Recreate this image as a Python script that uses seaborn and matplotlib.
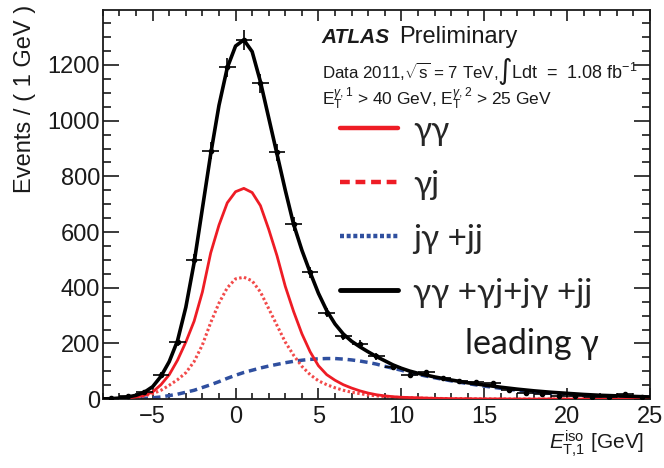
import numpy as np
import pandas as pd
import matplotlib
matplotlib.use("Agg")
import matplotlib.pyplot as plt
from matplotlib.lines import Line2D
from matplotlib.ticker import MultipleLocator
import seaborn as sns

sns.set_theme(style='ticks')
plt.rcParams['font.family'] = ['Liberation Sans', 'DejaVu Sans']
plt.rcParams['mathtext.fontset'] = 'custom'
plt.rcParams['mathtext.rm'] = 'Liberation Sans'
plt.rcParams['mathtext.it'] = 'Liberation Sans:italic'

# data points (1 GeV bins)
bin_centers = np.arange(-7.5, 25, 1.0)
counts = [3, 10, 25, 88, 207, 499, 892, 1192, 1290, 1134, 886, 629, 455, 311,
          227, 197, 155, 115, 87, 96, 75, 66, 60, 57, 33, 24, 18, 12, 10, 9, 9, 18, 8]

# fitted templates
fit_x = [-8, -7.5, -7, -6.5, -6, -5.5, -5, -4.5, -4, -3.5, -3, -2.5, -2, -1.5, -1, -0.5,
         0, 0.5, 1, 1.5, 2, 2.5, 3, 3.5, 4, 4.5, 5, 5.5, 6, 6.5, 7, 7.5, 8, 8.5, 9, 9.5,
         10, 10.5, 11, 12, 13, 14, 15, 16, 17, 18, 19, 20, 21, 22, 23, 24, 25]
total = [1, 2, 4, 8, 14, 25, 45, 82, 135, 210, 330, 490, 685, 880, 1055, 1190,
         1268, 1290, 1248, 1140, 1010, 880, 750, 628, 535, 455, 380, 318, 270, 234, 208, 188, 170, 153, 138, 123,
         111, 101, 93, 80, 69, 59, 51, 43, 36, 30, 25, 21, 17, 14, 12, 10, 8]
gg = [1, 2, 3, 5, 8, 14, 26, 52, 88, 140, 205, 280, 385, 525, 625, 705,
      745, 757, 742, 695, 610, 515, 405, 315, 235, 170, 120, 88, 68, 52, 40, 30, 22, 16, 12, 9,
      7, 6, 5, 3, 2, 1.5, 1, 1, 0.5, 0.5, 0.5, 0.5, 0.5, 0.5, 0.5, 0.5, 0.5]
gj = [0.5, 1, 2, 4, 7, 12, 20, 32, 50, 70, 95, 135, 195, 275, 345, 400,
      432, 438, 425, 385, 325, 265, 205, 158, 118, 88, 66, 52, 41, 32, 25, 20, 15, 12, 9, 7,
      6, 5, 4, 3, 2, 1.5, 1, 0.5, 0.5, 0.5, 0.5, 0.5, 0.5, 0.5, 0.5, 0.5, 0.5]
jj = [0, 0.5, 1, 1.5, 2, 3, 5, 8, 13, 18, 25, 32, 42, 52, 63, 75,
      86, 96, 104, 112, 119, 125, 131, 136, 140, 143, 145, 146, 146, 144, 141, 137, 132, 126, 118, 111,
      104, 96, 89, 77, 66, 56, 47, 39, 32, 26, 21, 17, 14, 11, 9, 8, 7]

labels = ['\u03b3\u03b3', '\u03b3j', 'j\u03b3 +jj', '\u03b3\u03b3 +\u03b3j+j\u03b3 +jj']

red = '#ee1c25'
blue = '#2f4f9f'
ink = '#1a1a1a'

df = pd.DataFrame({'x': fit_x, 'total': total, 'gg': gg, 'gj': gj, 'jj': jj})

fig = plt.figure(figsize=(6.64, 4.68), dpi=100)
ax = fig.add_axes([0.155, 0.147, 0.824, 0.832])

sns.lineplot(data=df, x='x', y='jj', ax=ax, color=blue, lw=2.5, linestyle=(0, (2.2, 1.4)), zorder=2)
sns.lineplot(data=df, x='x', y='gj', ax=ax, color='#f24a4a', lw=2.2, linestyle=(0, (0.8, 0.8)), zorder=2)
sns.lineplot(data=df, x='x', y='gg', ax=ax, color=red, lw=2.0, zorder=3)
sns.lineplot(data=df, x='x', y='total', ax=ax, color='black', lw=2.6, zorder=4)

ax.errorbar(bin_centers, counts, yerr=np.sqrt(counts), xerr=0.5, fmt='o', ms=3,
            color='black', elinewidth=1.2, capsize=0, zorder=5)

ax.set_xlim(-8, 25)
ax.set_ylim(0, 1398)
ax.xaxis.set_major_locator(MultipleLocator(5))
ax.xaxis.set_minor_locator(MultipleLocator(1))
ax.yaxis.set_major_locator(MultipleLocator(200))
ax.yaxis.set_minor_locator(MultipleLocator(50))
ax.tick_params(which='both', direction='in', top=True, right=True, width=1.2, colors=ink,
               labelsize=17, labelcolor=ink)
ax.tick_params(axis='x', which='major', length=8, pad=5)
ax.tick_params(axis='x', which='minor', length=4)
ax.tick_params(axis='y', which='major', length=11.5, pad=2)
ax.tick_params(axis='y', which='minor', length=6)
for s in ax.spines.values():
    s.set_linewidth(1.3)
    s.set_color(ink)

ax.set_xlabel(r'$E_{\mathrm{T{,}1}}^{\mathrm{iso}}$ [GeV]', fontsize=15, loc='right', color=ink)
ax.xaxis.label.set_horizontalalignment('right')
ax.xaxis.set_label_coords(0.99, -0.075)
ax.set_ylabel('Events / ( 1 GeV )', fontsize=17, loc='top', color=ink)
ax.yaxis.set_label_coords(-0.122, 1.012)

ax.text(0.400, 0.915, 'ATLAS', transform=ax.transAxes, fontsize=15, fontweight='bold',
        fontstyle='italic', va='baseline', color=ink)
ax.text(0.542, 0.915, 'Preliminary', transform=ax.transAxes, fontsize=17, va='baseline', color=ink)
ax.text(0.400, 0.823, r'Data 2011,$\sqrt{\mathrm{s}}$ = 7 TeV,',
        transform=ax.transAxes, fontsize=12.2, va='baseline', color=ink)
ax.text(0.721, 0.842, '\u222b', transform=ax.transAxes, fontsize=20, family='DejaVu Sans',
        va='center', ha='left', color=ink)
ax.text(0.745, 0.823, r'Ldt  =  1.08 fb$^{\mathrm{-1}}$',
        transform=ax.transAxes, fontsize=13, va='baseline', color=ink)
ax.text(0.400, 0.757, r'E$_{\mathrm{T}}^{\gamma,1}$ > 40 GeV, E$_{\mathrm{T}}^{\gamma,2}$ > 25 GeV',
        transform=ax.transAxes, fontsize=12.5, va='baseline', color=ink)

handles = [Line2D([], [], color=red, lw=3.2),
           Line2D([], [], color=red, lw=3.2, linestyle=(0, (2.2, 1.3))),
           Line2D([], [], color=blue, lw=3.2, linestyle=(0, (0.9, 0.6))),
           Line2D([], [], color='black', lw=3.5)]
ax.legend(handles, labels, loc='upper left', bbox_to_anchor=(0.433, 0.728), frameon=False,
          prop={'family': ['Lato', 'Noto Sans'], 'size': 24}, handlelength=1.75,
          handletextpad=0.45, labelspacing=0.72, borderpad=0, borderaxespad=0)
ax.text(0.662, 0.116, 'leading \u03b3', transform=ax.transAxes, fontsize=24.5,
        family=['Lato', 'Noto Sans'], va='baseline', color=ink)

plt.savefig('out.png', dpi=100)
